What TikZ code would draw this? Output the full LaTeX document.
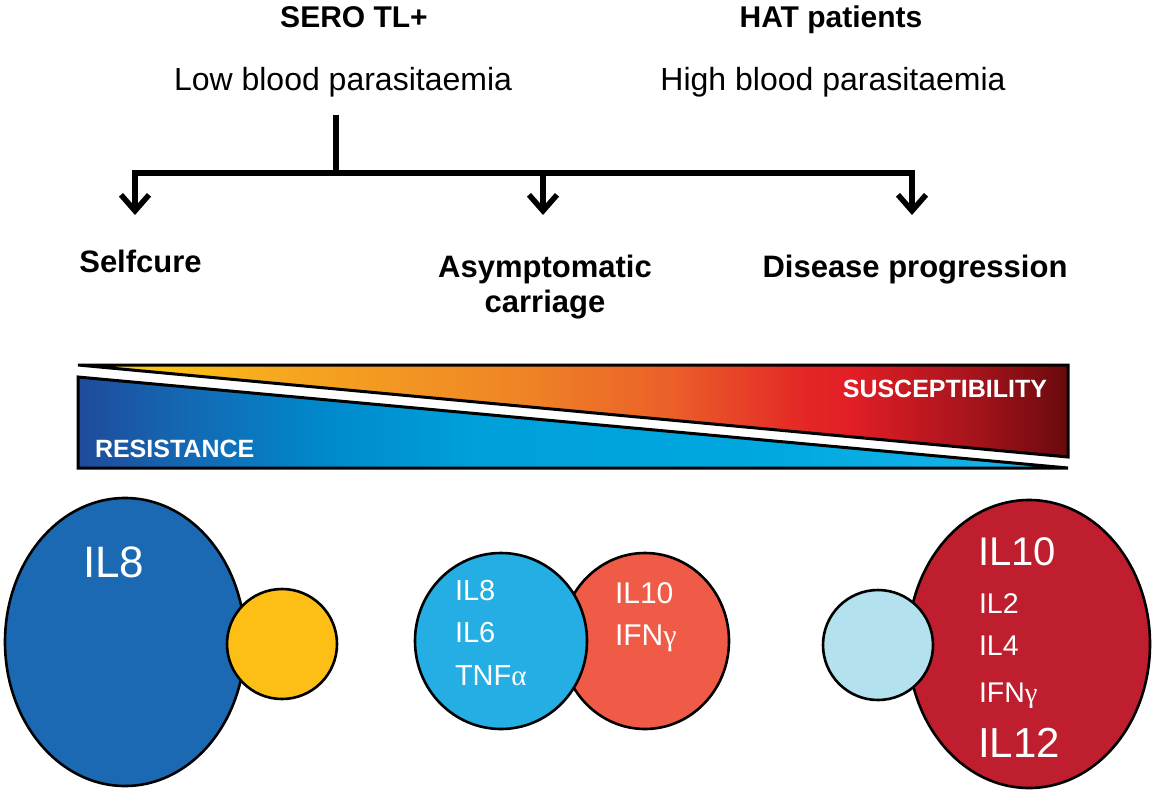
\documentclass[tikz,border=0pt]{standalone}
\usepackage{fontspec}
\setmainfont{Liberation Sans}
\newfontfamily\grk{Liberation Serif}
\usetikzlibrary{arrows.meta}
\definecolor{wA}{HTML}{FFD900}
\definecolor{wB}{HTML}{FCC415}
\definecolor{wC}{HTML}{F6A81E}
\definecolor{wD}{HTML}{EF8426}
\definecolor{wE}{HTML}{EB5F29}
\definecolor{wF}{HTML}{E42826}
\definecolor{wG}{HTML}{E21E26}
\definecolor{wH}{HTML}{A8141C}
\definecolor{wI}{HTML}{690A0D}
\definecolor{bA}{HTML}{1F4B9B}
\definecolor{bB}{HTML}{1566B1}
\definecolor{bC}{HTML}{0089CC}
\definecolor{bD}{HTML}{00A0DA}
\definecolor{bE}{HTML}{00A8E0}
\definecolor{bF}{HTML}{1AB6EA}
\definecolor{bigblue}{HTML}{1B69B3}
\definecolor{yel}{HTML}{FDBE16}
\definecolor{midblue}{HTML}{25AEE3}
\definecolor{midred}{HTML}{EF5B47}
\definecolor{paleblue}{HTML}{B3E1EE}
\definecolor{bigred}{HTML}{BE1E2D}
\pgfdeclarehorizontalshading{warm}{100bp}{color(0bp)=(wA); color(25bp)=(wA); color(29bp)=(wB); color(35bp)=(wC); color(47.5bp)=(wD); color(55bp)=(wE); color(61.5bp)=(wF); color(64bp)=(wG); color(70bp)=(wH); color(75bp)=(wI); color(100bp)=(wI)}
\pgfdeclarehorizontalshading{cool}{100bp}{color(0bp)=(bA); color(25bp)=(bA); color(30bp)=(bB); color(37.5bp)=(bC); color(45bp)=(bD); color(60bp)=(bE); color(75bp)=(bF); color(100bp)=(bF)}
\begin{document}
\begin{tikzpicture}[x=1pt,y=-1pt,
  every node/.style={inner sep=0pt, outer sep=0pt},
  title/.style={font=\bfseries\fontsize{30}{36}\selectfont, anchor=base},
  sub/.style={font=\fontsize{32}{38}\selectfont, anchor=base},
  outcome/.style={font=\bfseries\fontsize{31}{36}\selectfont, anchor=base},
  bartext/.style={font=\bfseries\fontsize{25}{30}\selectfont, text=white},
  cyto/.style={text=white, anchor=base west},
  blob/.style={draw=black, line width=2.6pt},
  bar/.style={draw=black, line width=3pt, line join=miter},
  tree/.style={line width=5.5pt},
  branch/.style={line width=5.5pt, line join=miter, {Straight Barb[length=16pt,width=28pt]}-{Straight Barb[length=16pt,width=28pt]}},
  single/.style={line width=5.5pt, -{Straight Barb[length=16pt,width=28pt]}},
]
\useasboundingbox (0,0) rectangle (1155,800);

% headers
\node[title] (sero) at (354,28) {SERO TL+};
\node[sub] (low) at (343,90) {Low blood parasitaemia};
\node[title] (hat) at (831,28) {HAT patients};
\node[sub] (high) at (833,90) {High blood parasitaemia};

% tree
\coordinate (stemtop) at (336,115);
\coordinate (stemfoot) at (336,173);
\coordinate (jl) at (135,173);
\coordinate (jm) at (543,173);
\coordinate (jr) at (912,173);
\coordinate (tl) at (135,215);
\coordinate (tm) at (543,215);
\coordinate (tr) at (912,215);
\draw[tree] (stemtop) -- (stemfoot);
\draw[branch] (tl) -- (jl) -- (jr) -- (tr);
\draw[single] (jm) -- (tm);

% outcomes
\node[outcome] (self) at (140.5,272) {Selfcure};
\node[outcome] (asym) at (545,277) {Asymptomatic};
\node[outcome] (carr) at (545,312) {carriage};
\node[outcome] (dis) at (915,277) {Disease progression};

% gradient bar
\shade[shading=warm] (78,365) -- (1068,365) -- (1068,457) -- cycle;
\draw[bar] (78,365) -- (1068,365) -- (1068,457) -- cycle;
\shade[shading=cool] (78,377) -- (1068,468) -- (78,468) -- cycle;
\draw[bar] (78,377) -- (1068,468) -- (78,468) -- cycle;
\node[bartext, anchor=base east] (susc) at (1047,397) {SUSCEPTIBILITY};
\node[bartext, anchor=base west] (resi) at (95,457) {RESISTANCE};

% left group
\draw[blob, fill=bigblue] (125,642) ellipse [x radius=120pt, y radius=144pt];
\draw[blob, fill=yel] (282,644) circle [radius=55pt];
\node[cyto, font=\fontsize{44}{50}\selectfont] (l8) at (83,577) {IL8};

% middle group
\draw[blob, fill=midred] (645,641) ellipse [x radius=84pt, y radius=88pt];
\draw[blob, fill=midblue] (501,641) ellipse [x radius=86pt, y radius=88pt];
\node[cyto, font=\fontsize{29}{34}\selectfont] (m8) at (455,600) {IL8};
\node[cyto, font=\fontsize{29}{34}\selectfont] (m6) at (455,642) {IL6};
\node[cyto, font=\fontsize{29}{34}\selectfont] (mt) at (455,685) {TNF{\grk α}};
\node[cyto, font=\fontsize{30}{34}\selectfont] (m10) at (615,603) {IL10};
\node[cyto, font=\fontsize{30}{34}\selectfont] (mg) at (615,645) {IFN{\grk γ}};

% right group
\draw[blob, fill=bigred] (1029,644) ellipse [x radius=121pt, y radius=144pt];
\draw[blob, fill=paleblue] (878,645) circle [radius=55pt];
\node[cyto, font=\fontsize{40}{46}\selectfont] (r10) at (978,565) {IL10};
\node[cyto, font=\fontsize{28.5}{32}\selectfont] (r2) at (979,613) {IL2};
\node[cyto, font=\fontsize{28.5}{32}\selectfont] (r4) at (979,655) {IL4};
\node[cyto, font=\fontsize{28.5}{32}\selectfont] (rg) at (979,702) {IFN{\grk γ}};
\node[cyto, font=\fontsize{42}{48}\selectfont] (r12) at (978,757) {IL12};
\end{tikzpicture}
\end{document}
